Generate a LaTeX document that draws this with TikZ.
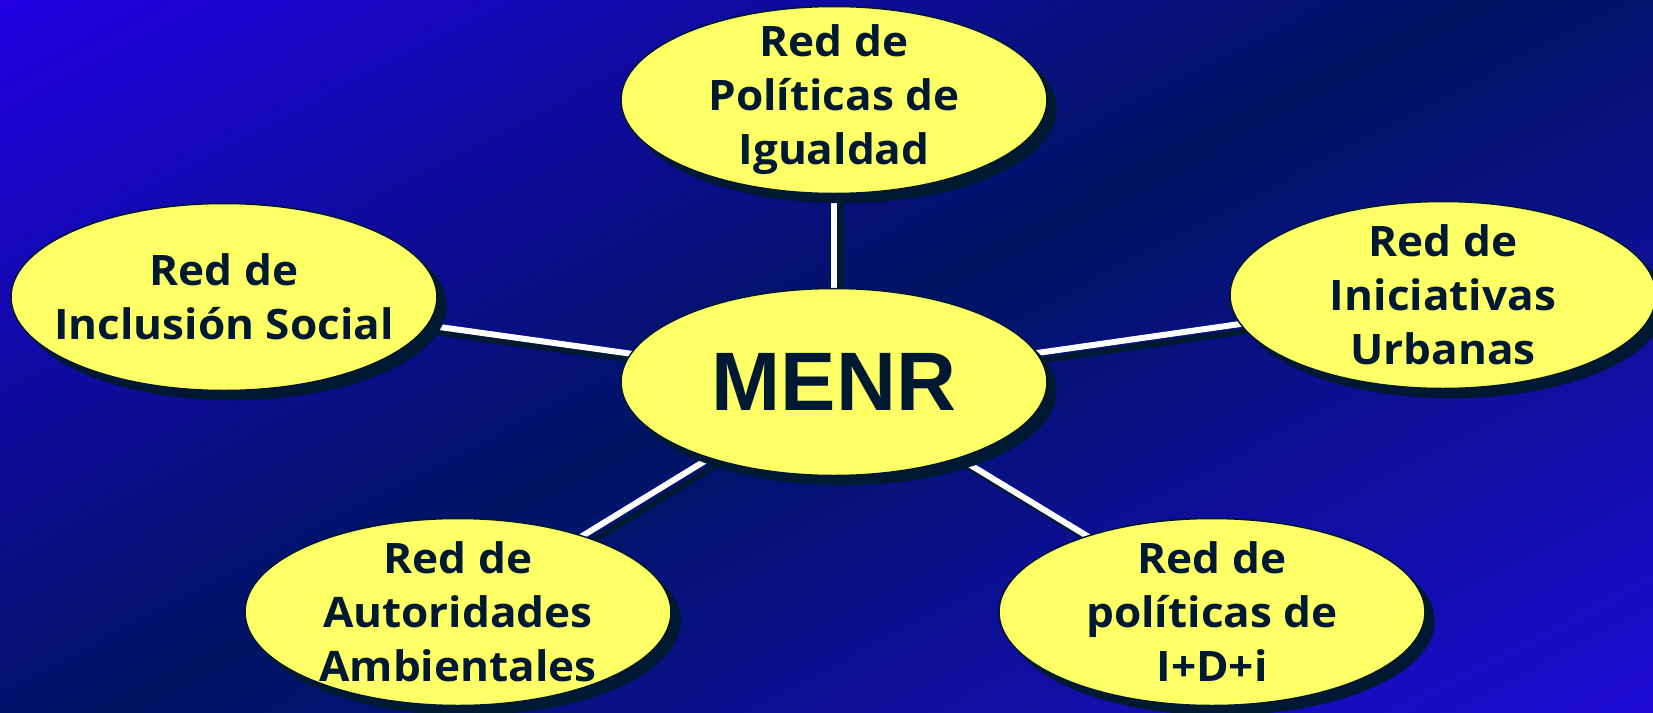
\documentclass[tikz,border=0pt]{standalone}
\usepackage{fontspec}
\newfontfamily\labfont{Open Sans}[FakeStretch=1.05]
\newfontfamily\menrfont{Liberation Sans}
\usetikzlibrary{shapes.geometric,shadows}
\pgfdeclarelayer{bglayer}
\pgfdeclarelayer{edgelayer}
\pgfsetlayers{bglayer,edgelayer,main}
\definecolor{bgA}{RGB}{34,0,228}
\definecolor{bgM}{RGB}{0,20,98}
\definecolor{bgB}{RGB}{30,10,212}
\definecolor{yel}{RGB}{255,255,102}
\definecolor{shadc}{RGB}{0,25,51}
\definecolor{txtc}{RGB}{0,25,51}
\begin{document}
\begin{tikzpicture}[x=1pt,y=-1pt,
  bubble/.style={ellipse, fill=yel, draw=shadc, line width=1.5pt, inner sep=0pt,
    minimum height=187pt, minimum width=426pt,
    general shadow={shadow xshift=9pt, shadow yshift=-9pt, fill=shadc, draw=shadc},
    label={[bubbletext]center:#1}},
  bubbletext/.style={align=center, text=txtc, inner sep=0pt,
    font=\labfont\bfseries\fontsize{42}{54}\selectfont},
  linkshadow/.style={draw=shadc, line width=6pt, transform canvas={shift={(7pt,-7pt)}}},
  link/.style={draw=white, line width=6pt}]
\useasboundingbox (0,0) rectangle (1653,712);
% background gradient
\begin{pgfonlayer}{bglayer}
\begin{scope}
\clip (0,0) rectangle (1653,712);
\foreach \k in {0,...,99} {
  \pgfmathsetmacro\va{\k*13.944}
  \pgfmathsetmacro\vb{(\k+1)*13.944+1}
  \pgfmathsetmacro\tm{(\k+0.5)/100}
  \pgfmathparse{\tm<0.49 ? 1 : 0}
  \ifnum\pgfmathresult=1
    \pgfmathsetmacro\pc{100*\tm/0.49}
    \colorlet{stripc}{bgM!\pc!bgA}
  \else
    \pgfmathsetmacro\pc{100*(\tm-0.49)/0.51}
    \colorlet{stripc}{bgB!\pc!bgM}
  \fi
  \fill[stripc] ({-2000*0.8872+\va*0.4614},{2000*0.4614+\va*0.8872})
     -- ({2000*0.8872+\va*0.4614},{-2000*0.4614+\va*0.8872})
     -- ({2000*0.8872+\vb*0.4614},{-2000*0.4614+\vb*0.8872})
     -- ({-2000*0.8872+\vb*0.4614},{2000*0.4614+\vb*0.8872}) -- cycle;
}
\end{scope}
\end{pgfonlayer}
% nodes
\node[bubble={Red de\\Políticas de\\Igualdad}] (top) at (834,100) {};
\node[bubble={\menrfont\bfseries\fontsize{83}{90}\selectfont\raisebox{-5pt}{MENR}}] (menr) at (834,382) {};
\node[bubble={Red de\\Inclusión Social}] (left) at (224,297) {};
\node[bubble={Red de\\Iniciativas\\Urbanas}] (right) at (1443,295) {};
\node[bubble={Red de\\Autoridades\\Ambientales}] (bl) at (458,612) {};
\node[bubble={Red de\\políticas de\\I+D+i}] (br) at (1212,612) {};
% connectors
\begin{pgfonlayer}{edgelayer}
\foreach \n in {top,left,right,bl,br} {
  \draw[linkshadow] (menr.center) -- (\n.center);
  \draw[link] (menr.center) -- (\n.center);
}
\end{pgfonlayer}
\end{tikzpicture}
\end{document}
